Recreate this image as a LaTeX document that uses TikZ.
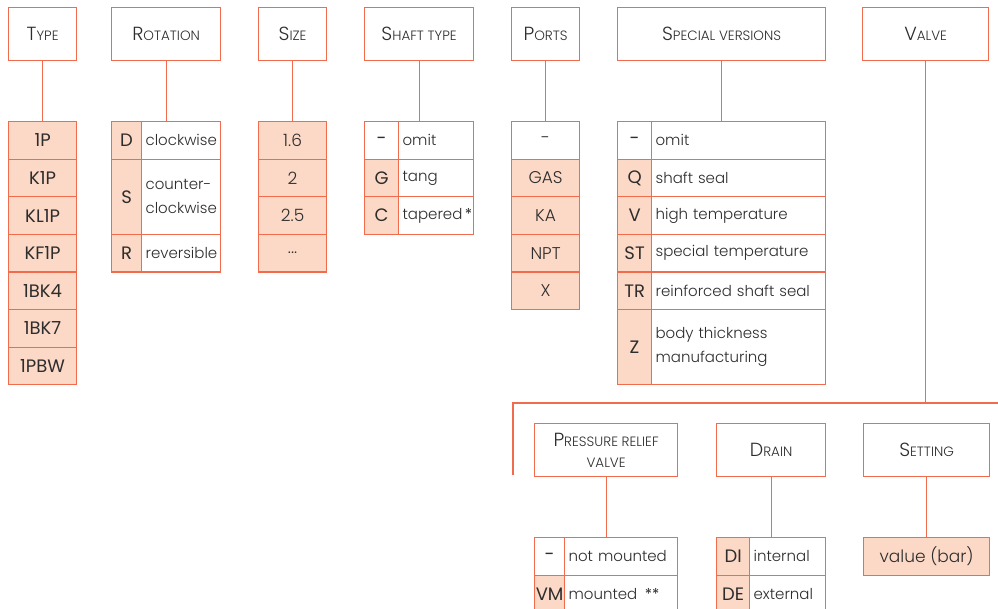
\documentclass[tikz,border=0pt]{standalone}
\usepackage{fontspec}
\setmainfont{Poppins}
\newfontfamily\lite{Poppins Light}
\usetikzlibrary{positioning}
\definecolor{edge}{RGB}{240,108,76}
\definecolor{peach}{RGB}{252,217,198}
\definecolor{ink}{RGB}{45,45,45}
% small caps by hand: first letter large, rest small
\newcommand{\hcap}[2]{{\fontsize{19}{22}\selectfont #1}{\fontsize{13.5}{16}\selectfont #2}}

\begin{document}
\begin{tikzpicture}[
  x=1pt, y=-1pt, line width=1.2pt,
  hdr/.style={draw=edge, fill=white, anchor=north west, minimum height=53pt, inner sep=2pt, align=center, text=ink, font=\lite\fontsize{13.5}{21}\selectfont},
  code/.style={draw=edge, fill=peach, anchor=north west, minimum height=37.6pt, inner sep=0pt, text=ink, font=\fontsize{18}{20}\selectfont},
  codew/.style={code, fill=white},
  item/.style={code, font=\lite\fontsize{17}{20}\selectfont},
  itemw/.style={item, fill=white},
  desc/.style={draw=edge, fill=white, anchor=north west, minimum height=37.6pt, inner xsep=4pt, inner ysep=0pt, align=left, text=ink, font=\lite\fontsize{15}{24}\selectfont},
  link/.style={draw=edge}
]
\useasboundingbox (0,0) rectangle (998,609);

% headers
\node[hdr, minimum width=68pt] (typeH) at (8,7) {\hcap{T}{YPE}};
\node[hdr, minimum width=109pt] (rotH) at (111,7) {\hcap{R}{OTATION}};
\node[hdr, minimum width=68pt] (sizeH) at (258,7) {\hcap{S}{IZE}};
\node[hdr, minimum width=109pt] (shaftH) at (364,7) {\hcap{S}{HAFT TYPE}};
\node[hdr, minimum width=68pt] (portH) at (511,7) {\hcap{P}{ORTS}};
\node[hdr, minimum width=208pt] (specH) at (617,7) {\hcap{S}{PECIAL VERSIONS}};
\node[hdr, minimum width=126pt] (valveH) at (862,7) {\hcap{V}{ALVE}};

% type
\node[code, minimum width=68pt] (t1) at (8,121) {1P};
\node[code, minimum width=68pt] (t2) at (8,158.6) {K1P};
\node[code, minimum width=68pt] (t3) at (8,196.2) {KL1P};
\node[code, minimum width=68pt] (t4) at (8,233.8) {KF1P};
\node[code, minimum width=68pt] (t5) at (8,271.4) {1BK4};
\node[code, minimum width=68pt] (t6) at (8,309) {1BK7};
\node[code, minimum width=68pt] (t7) at (8,346.6) {1PBW};

% rotation
\node[code, minimum width=30pt] (rotD) at (111,121) {D};
\node[desc, text width=71pt] (rotDd) at (141,121) {clockwise};
\node[code, minimum width=30pt, minimum height=75.2pt] (rotS) at (111,158.6) {S};
\node[desc, text width=71pt, minimum height=75.2pt] (rotSd) at (141,158.6) {counter-\\clockwise};
\node[code, minimum width=30pt] (rotR) at (111,233.8) {R};
\node[desc, text width=71pt] (rotRd) at (141,233.8) {reversible};

% size
\node[item, minimum width=68pt] (s1) at (258,121) {1.6};
\node[item, minimum width=68pt] (s2) at (258,158.6) {2};
\node[item, minimum width=68pt] (s3) at (258,196.2) {2.5};
\node[item, minimum width=68pt] (s4) at (258,233.8) {...};

% shaft type
\node[codew, minimum width=34pt] (sh1) at (364,121) {-};
\node[desc, text width=67pt] (sh1d) at (398,121) {omit};
\node[code, minimum width=34pt] (sh2) at (364,158.6) {G};
\node[desc, text width=67pt] (sh2d) at (398,158.6) {tang};
\node[code, minimum width=34pt] (sh3) at (364,196.2) {C};
\node[desc, text width=67pt] (sh3d) at (398,196.2) {\mbox{tapered\,{\normalfont *}}};

% ports
\node[itemw, minimum width=68pt] (p1) at (511,121) {-};
\node[item, minimum width=68pt] (p2) at (511,158.6) {GAS};
\node[item, minimum width=68pt] (p3) at (511,196.2) {KA};
\node[item, minimum width=68pt] (p4) at (511,233.8) {NPT};
\node[item, minimum width=68pt] (p5) at (511,271.4) {X};

% special versions
\node[codew, minimum width=34pt] (sp1) at (617,121) {-};
\node[desc, text width=166pt] (sp1d) at (651,121) {omit};
\node[code, minimum width=34pt] (sp2) at (617,158.6) {Q};
\node[desc, text width=166pt] (sp2d) at (651,158.6) {shaft seal};
\node[code, minimum width=34pt] (sp3) at (617,196.2) {V};
\node[desc, text width=166pt] (sp3d) at (651,196.2) {high temperature};
\node[code, minimum width=34pt] (sp4) at (617,233.8) {ST};
\node[desc, text width=166pt] (sp4d) at (651,233.8) {special temperature};
\node[code, minimum width=34pt] (sp5) at (617,271.4) {TR};
\node[desc, text width=166pt] (sp5d) at (651,271.4) {reinforced shaft seal};
\node[code, minimum width=34pt, minimum height=75.2pt] (sp6) at (617,309) {Z};
\node[desc, text width=166pt, minimum height=75.2pt] (sp6d) at (651,309) {body thickness\\manufacturing};

% valve branch
\coordinate (busL) at (513,403);
\coordinate (busR) at (998,403);
\coordinate (busE) at (513,475);

\node[hdr, minimum width=143pt] (prvH) at (534,423) {\hcap{P}{RESSURE RELIEF}\\VALVE};
\node[hdr, minimum width=109pt] (drainH) at (716,423) {\hcap{D}{RAIN}};
\node[hdr, minimum width=126pt] (setH) at (863,423) {\hcap{S}{ETTING}};

\node[codew, minimum width=30pt] (prv1) at (534,537) {-};
\node[desc, text width=105pt] (prv1d) at (564,537) {not mounted};
\node[code, minimum width=30pt] (prv2) at (534,574.6) {VM};
\node[desc, text width=105pt] (prv2d) at (564,574.6) {mounted\, {\normalfont **}};

\node[code, minimum width=33pt] (dr1) at (716,537) {DI};
\node[desc, text width=68pt] (dr1d) at (749,537) {internal};
\node[code, minimum width=33pt] (dr2) at (716,574.6) {DE};
\node[desc, text width=68pt] (dr2d) at (749,574.6) {external};

\node[item, minimum width=126pt] (set1) at (863,537) {value (bar)};

% connectors
\draw[link] (typeH.south) -- (t1.north);
\draw[link] (rotH.south) -- (rotH.south |- rotD.north);
\draw[link] (sizeH.south) -- (s1.north);
\draw[link] (shaftH.south) -- (shaftH.south |- sh1.north);
\draw[link] (portH.south) -- (p1.north);
\draw[link] (specH.south) -- (specH.south |- sp1.north);
\draw[link] (valveH.south) -- (valveH.south |- busL);
\draw[link] (busE) -- (busL) -- (busR);
\draw[link] (prvH.south) -- (prvH.south |- prv1.north);
\draw[link] (drainH.south) -- (drainH.south |- dr1.north);
\draw[link] (setH.south) -- (set1.north);
\end{tikzpicture}
\end{document}
